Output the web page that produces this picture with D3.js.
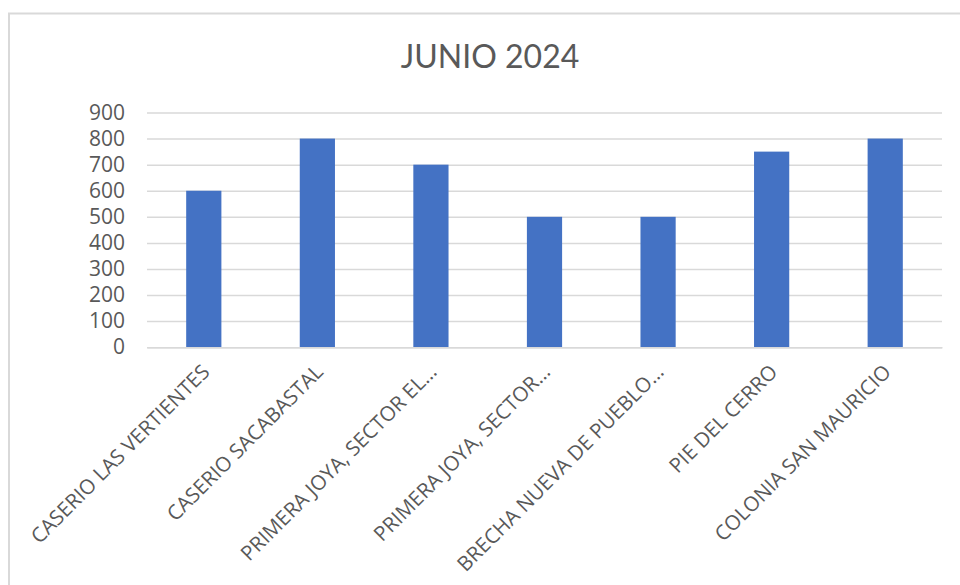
<!DOCTYPE html>
<html><head><meta charset="utf-8">
<script src="https://cdn.jsdelivr.net/npm/d3@7"></script>
<style>html,body{margin:0;padding:0;background:#fff;}svg{display:block;}</style>
</head><body>
<svg id="chart" width="960" height="585"></svg>
<script>
const title = "JUNIO 2024";
const categories = ["CASERIO LAS VERTIENTES","CASERIO SACABASTAL","PRIMERA JOYA, SECTOR EL…","PRIMERA JOYA, SECTOR…","BRECHA NUEVA DE PUEBLO…","PIE DEL CERRO","COLONIA SAN MAURICIO"];
const values = [600, 800, 700, 500, 500, 750, 800];
const yTicks = [0,100,200,300,400,500,600,700,800,900];

const svg = d3.select("#chart");
const W = 960, H = 585;
const m = {left:147, right:18, top:112.5, bottom:238};
const x = d3.scaleBand().domain(categories).range([m.left, W - m.right]).paddingInner(0.69).paddingOuter(0.345);
const y = d3.scaleLinear().domain([0, 900]).range([H - m.bottom + 0.2, m.top]);

svg.append("rect").attr("x",9).attr("y",13.5).attr("width",1000).attr("height",700)
  .attr("fill","#fff").attr("stroke","#d9d9d9").attr("stroke-width",2);

svg.append("text").attr("x",490).attr("y",68).attr("text-anchor","middle")
  .attr("font-family","Lato, 'Open Sans', sans-serif").attr("font-size",32).attr("fill","#595959").text(title);

const gy = svg.append("g").attr("transform",`translate(${m.left},0)`)
  .call(d3.axisLeft(y).tickValues(yTicks).tickSize(-(W - m.right - m.left)).tickPadding(22).tickFormat(d3.format("d")));
gy.select(".domain").remove();
gy.selectAll(".tick line").attr("stroke","#d9d9d9").attr("stroke-width",1.5);
gy.selectAll(".tick text").attr("font-family","'Open Sans', sans-serif").attr("font-size",21).attr("fill","#595959");

svg.append("g").selectAll("rect").data(values).join("rect")
  .attr("x",(d,i)=>x(categories[i])).attr("width",x.bandwidth())
  .attr("y",d=>y(d)).attr("height",d=>y(0)-y(d)).attr("fill","#4472C4");

const gx = svg.append("g").attr("transform",`translate(0,${y(0)})`)
  .call(d3.axisBottom(x).tickSize(0).tickPadding(0));
gx.select(".domain").attr("stroke","#d9d9d9").attr("stroke-width",1.5);
gx.selectAll(".tick text").attr("font-family","'Open Sans', sans-serif").attr("font-size",20.5).attr("fill","#595959")
  .attr("text-anchor","end").attr("dy","0.35em")
  .attr("transform","translate(2,21) rotate(-45)");
</script>
</body></html>
